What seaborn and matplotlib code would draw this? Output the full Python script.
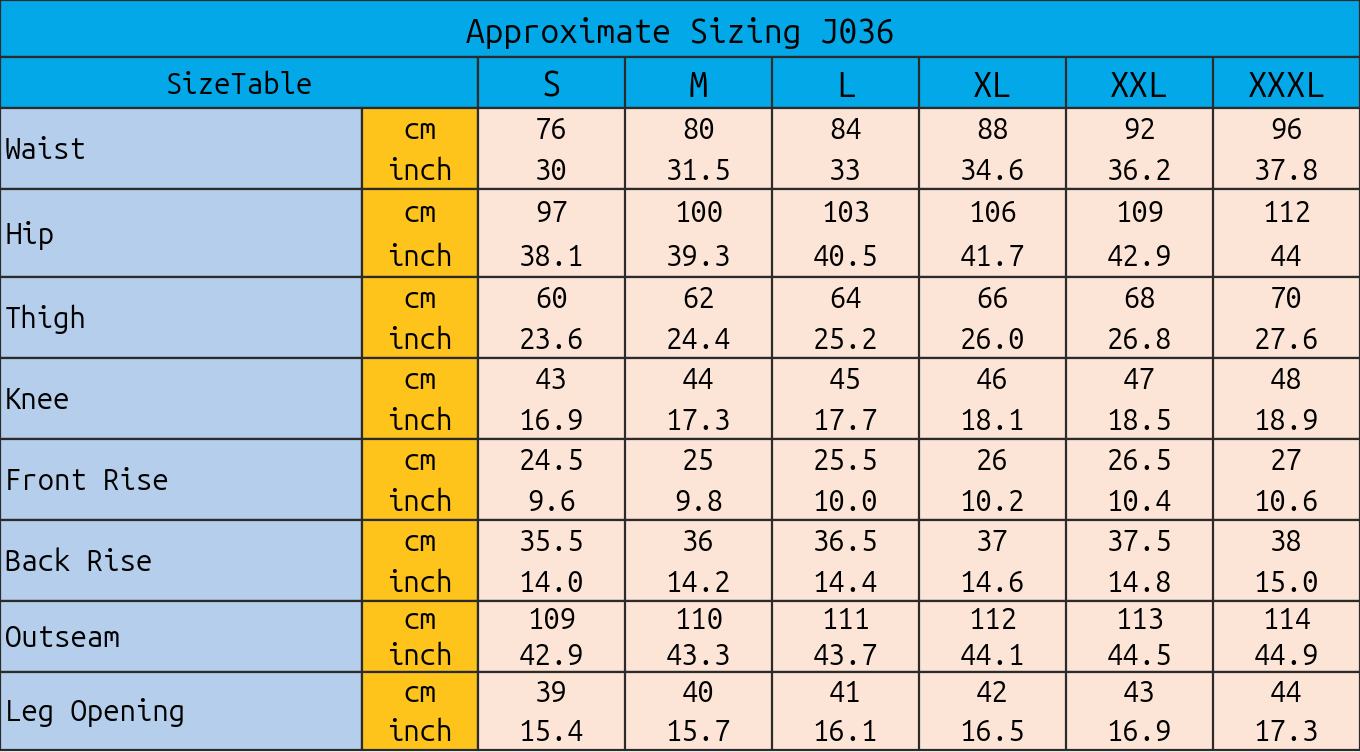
import numpy as np
import pandas as pd
import seaborn as sns
import matplotlib
matplotlib.use("Agg")
import matplotlib.pyplot as plt
from matplotlib.colors import ListedColormap

# ---------------- data ----------------
title = "Approximate Sizing J036"
corner = "SizeTable"
sizes = ["S", "M", "L", "XL", "XXL", "XXXL"]
measures = ["Waist", "Hip", "Thigh", "Knee", "Front Rise", "Back Rise", "Outseam", "Leg Opening"]
units = ["cm", "inch"]
cm_vals = [
    ["76", "80", "84", "88", "92", "96"],
    ["97", "100", "103", "106", "109", "112"],
    ["60", "62", "64", "66", "68", "70"],
    ["43", "44", "45", "46", "47", "48"],
    ["24.5", "25", "25.5", "26", "26.5", "27"],
    ["35.5", "36", "36.5", "37", "37.5", "38"],
    ["109", "110", "111", "112", "113", "114"],
    ["39", "40", "41", "42", "43", "44"],
]
inch_vals = [
    ["30", "31.5", "33", "34.6", "36.2", "37.8"],
    ["38.1", "39.3", "40.5", "41.7", "42.9", "44"],
    ["23.6", "24.4", "25.2", "26.0", "26.8", "27.6"],
    ["16.9", "17.3", "17.7", "18.1", "18.5", "18.9"],
    ["9.6", "9.8", "10.0", "10.2", "10.4", "10.6"],
    ["14.0", "14.2", "14.4", "14.6", "14.8", "15.0"],
    ["42.9", "43.3", "43.7", "44.1", "44.5", "44.9"],
    ["15.4", "15.7", "16.1", "16.5", "16.9", "17.3"],
]

# ---------------- style ----------------
sns.set_theme(style="white")
plt.rcParams["font.family"] = ["Ubuntu Mono", "Liberation Mono", "DejaVu Sans Mono"]

BLUE = "#02A8E8"
LABEL_BLUE = "#B5CEEB"
ORANGE = "#FEC41B"
PEACH = "#FCE5D6"
LINE = "#2b2b2b"
LW = 1.6

FS_TITLE = 24
FS_HEAD = 25
FS_CORNER = 21
FS_BODY = 21

W, H = 1360, 752
fig = plt.figure(figsize=(W / 100, H / 100), dpi=100)
fig.patch.set_facecolor("white")


def add_ax(x0, y0, x1, y1):
    return fig.add_axes([x0 / W, 1 - y1 / H, (x1 - x0) / W, (y1 - y0) / H])


def borders(ax, nrows, ncols, hstep=1):
    for r in range(0, nrows + 1, hstep):
        ax.axhline(r, color=LINE, lw=LW, clip_on=False)
    for c in range(0, ncols + 1):
        ax.axvline(c, color=LINE, lw=LW, clip_on=False)


def clean(ax):
    ax.set_xticks([])
    ax.set_yticks([])
    ax.set_xlabel("")
    ax.set_ylabel("")


# layout (pixels)
X_LABEL, X_UNIT, X_DATA, X_END = 0, 362, 478, 1360
Y_TITLE, Y_HEAD, Y_BODY = 0, 57, 108
ROW_EDGES = [108, 189, 277, 358, 439, 520, 601, 672, 750]

# ---- title row ----
ax_t = add_ax(X_LABEL, Y_TITLE, X_END, Y_HEAD)
sns.heatmap(pd.DataFrame([[0]]), ax=ax_t, cmap=ListedColormap([BLUE]), cbar=False)
ax_t.text(0.5, 0.58, title, ha="center", va="center", fontsize=FS_TITLE, color="black")
clean(ax_t)
borders(ax_t, 1, 1)

# ---- header row ----
ax_c = add_ax(X_LABEL, Y_HEAD, X_DATA, Y_BODY)
sns.heatmap(pd.DataFrame([[0]]), ax=ax_c, cmap=ListedColormap([BLUE]), cbar=False)
ax_c.text(0.5, 0.55, corner, ha="center", va="center", fontsize=FS_CORNER, color="black")
clean(ax_c)
borders(ax_c, 1, 1)

ax_h = add_ax(X_DATA, Y_HEAD, X_END, Y_BODY)
sns.heatmap(pd.DataFrame([np.zeros(len(sizes))], columns=sizes), ax=ax_h,
            cmap=ListedColormap([BLUE]), cbar=False)
for j, s in enumerate(sizes):
    ax_h.text(j + 0.5, 0.58, s, ha="center", va="center", fontsize=FS_HEAD, color="black")
clean(ax_h)
borders(ax_h, 1, len(sizes))

# ---- body: one band per measurement ----
for i, m in enumerate(measures):
    y0, y1 = ROW_EDGES[i], ROW_EDGES[i + 1]

    ax_l = add_ax(X_LABEL, y0, X_UNIT, y1)
    sns.heatmap(pd.DataFrame(np.zeros((2, 1))), ax=ax_l,
                cmap=ListedColormap([LABEL_BLUE]), cbar=False)
    ax_l.text(0.014, 1.05, m, ha="left", va="center", fontsize=FS_BODY, color="black")
    clean(ax_l)
    borders(ax_l, 2, 1, hstep=2)

    ax_u = add_ax(X_UNIT, y0, X_DATA, y1)
    sns.heatmap(pd.DataFrame(np.zeros((2, 1)), index=units), ax=ax_u,
                cmap=ListedColormap([ORANGE]), cbar=False)
    for k, u in enumerate(units):
        ax_u.text(0.5, k + 0.56, u, ha="center", va="center", fontsize=FS_BODY, color="black")
    clean(ax_u)
    borders(ax_u, 2, 1, hstep=2)

    band = np.array([cm_vals[i], inch_vals[i]])
    ax_d = add_ax(X_DATA, y0, X_END, y1)
    sns.heatmap(pd.DataFrame(band.astype(float), index=units, columns=sizes), ax=ax_d,
                cmap=ListedColormap([PEACH]), cbar=False)
    for k in range(2):
        for j in range(len(sizes)):
            ax_d.text(j + 0.5, k + 0.56, band[k, j], ha="center", va="center",
                      fontsize=FS_BODY, color="black")
    clean(ax_d)
    borders(ax_d, 2, len(sizes), hstep=2)

fig.savefig("out.png", dpi=100, facecolor="white")
